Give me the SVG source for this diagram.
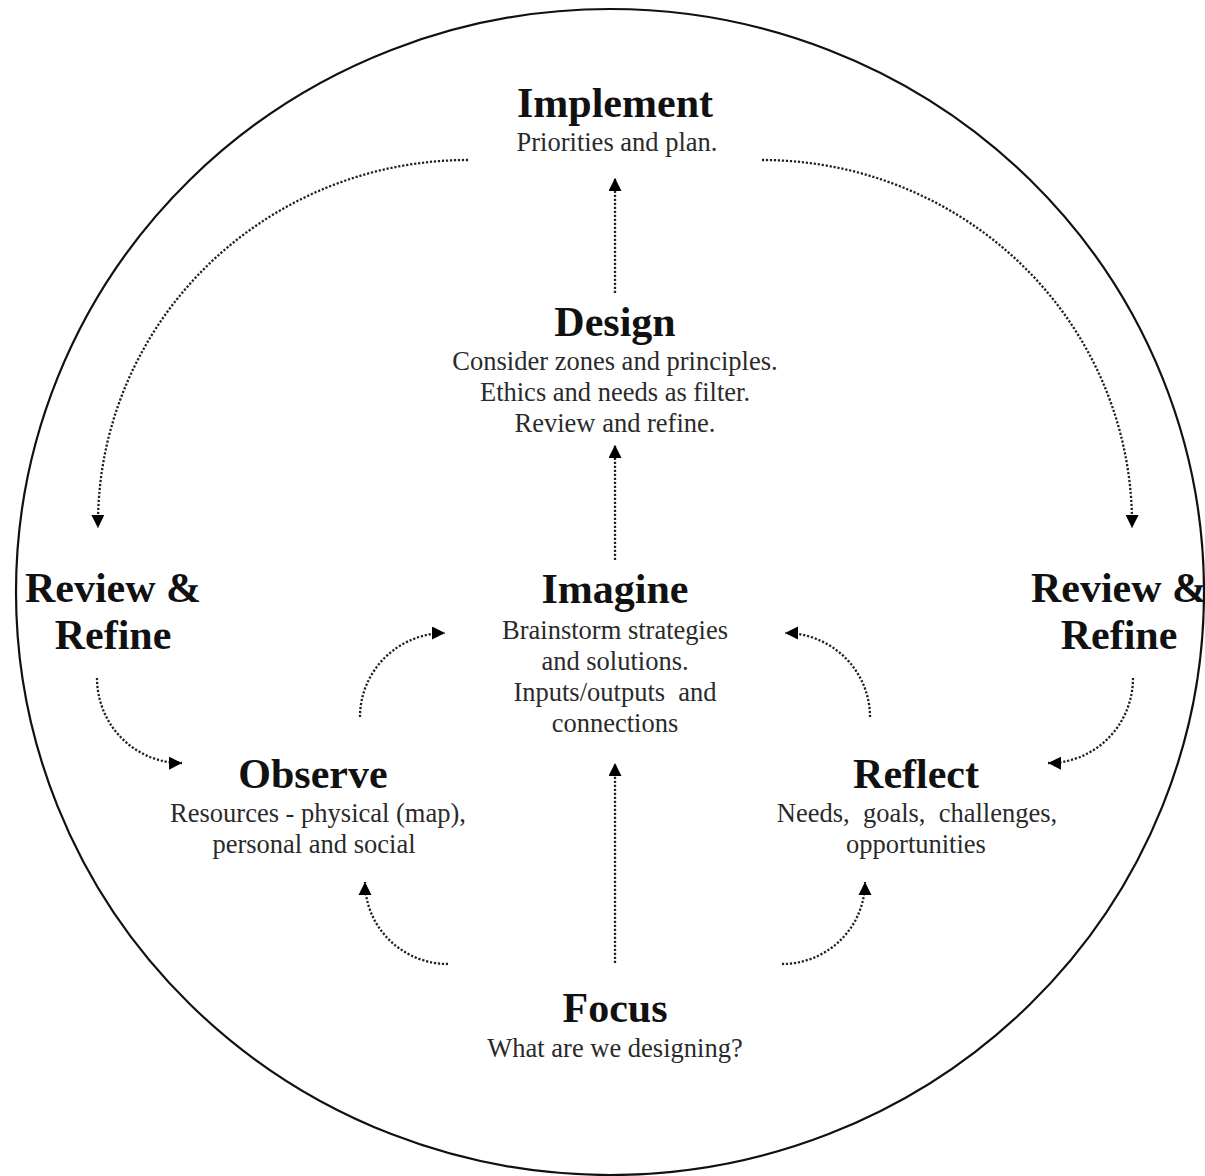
<svg xmlns="http://www.w3.org/2000/svg" width="1205" height="1176" viewBox="0 0 1205 1176">
<style>
.t{font-family:"Liberation Serif","Times New Roman",serif;font-weight:bold;font-size:42px;fill:#111;text-anchor:middle}
.s{font-family:"Liberation Serif","Times New Roman",serif;font-size:26.5px;fill:#2a2a2a;text-anchor:middle;white-space:pre}
.c{fill:none;stroke:#222;stroke-width:2.3;stroke-dasharray:2.2 1.8}
</style>
<defs>
<marker id="ah" markerUnits="userSpaceOnUse" markerWidth="16" markerHeight="16" refX="13" refY="6.5" orient="auto">
<path d="M0,0 L13,6.5 L0,13 Z" fill="#000"/>
</marker>
</defs>
<rect width="1205" height="1176" fill="#fff"/>
<ellipse cx="610" cy="592" rx="594" ry="583" fill="none" stroke="#111" stroke-width="2.2"/>
<g id="implement"><text class="t" x="615" y="117">Implement</text><text class="s" x="617" y="151">Priorities and plan.</text></g>
<g id="design"><text class="t" x="615" y="336">Design</text><text class="s" x="615" y="370">Consider zones and principles.</text><text class="s" x="615" y="401">Ethics and needs as filter.</text><text class="s" x="615" y="432">Review and refine.</text></g>
<g id="imagine"><text class="t" x="615" y="603">Imagine</text><text class="s" x="615" y="639">Brainstorm strategies</text><text class="s" x="615" y="670">and solutions.</text><text class="s" x="615" y="701" xml:space="preserve">Inputs/outputs  and</text><text class="s" x="615" y="732">connections</text></g>
<g id="review-left"><text class="t" x="113" y="602">Review &amp;</text><text class="t" x="113" y="649">Refine</text></g>
<g id="review-right"><text class="t" x="1119" y="602">Review &amp;</text><text class="t" x="1119" y="649">Refine</text></g>
<g id="observe"><text class="t" x="313" y="788">Observe</text><text class="s" x="318" y="822">Resources - physical (map),</text><text class="s" x="314" y="853">personal and social</text></g>
<g id="reflect"><text class="t" x="916" y="788">Reflect</text><text class="s" x="917" y="822" xml:space="preserve">Needs,  goals,  challenges,</text><text class="s" x="916" y="853">opportunities</text></g>
<g id="focus"><text class="t" x="615" y="1022">Focus</text><text class="s" x="615" y="1057">What are we designing?</text></g>
<g id="connectors">
<path class="c" d="M615,293 L615,178" marker-end="url(#ah)"/>
<path class="c" d="M615,560 L615,445" marker-end="url(#ah)"/>
<path class="c" d="M615,963 L615,763" marker-end="url(#ah)"/>
<path class="c" d="M468,160 A370,364 0 0 0 98,528" marker-end="url(#ah)"/>
<path class="c" d="M762,160 A370,364 0 0 1 1132,528" marker-end="url(#ah)"/>
<path class="c" d="M97,678 A84,85 0 0 0 182,763" marker-end="url(#ah)"/>
<path class="c" d="M1133,678 A84,85 0 0 1 1048,763" marker-end="url(#ah)"/>
<path class="c" d="M360,717 A85,84 0 0 1 445,633" marker-end="url(#ah)"/>
<path class="c" d="M870,717 A85,84 0 0 0 785,633" marker-end="url(#ah)"/>
<path class="c" d="M448,964 A83,82 0 0 1 365,882" marker-end="url(#ah)"/>
<path class="c" d="M782,964 A83,82 0 0 0 865,882" marker-end="url(#ah)"/>
</g>
</svg>
